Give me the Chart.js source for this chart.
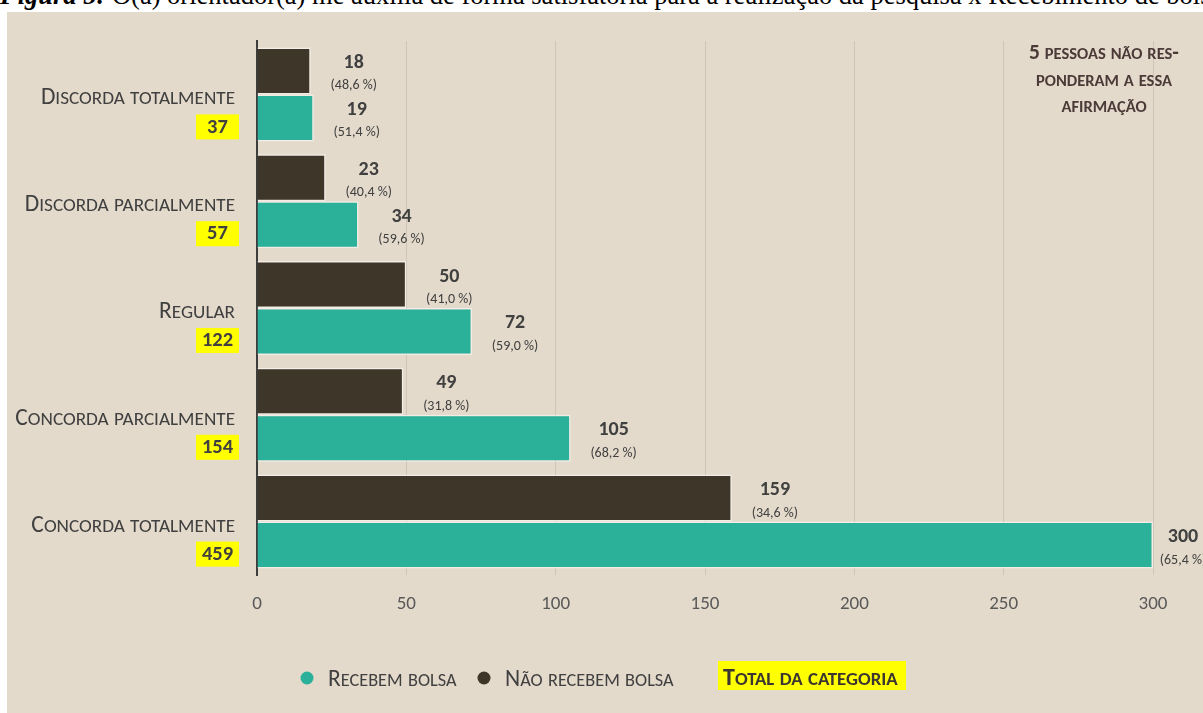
<!DOCTYPE html>
<html lang="pt">
<head>
<meta charset="utf-8">
<script src="https://cdn.jsdelivr.net/npm/chart.js@4"></script>
<style>
    body { margin: 0; background: #ffffff; width: 1203px; height: 713px; overflow: hidden; position: relative; }
    #titulo { position: absolute; left: 0; top: -18px; font-family: 'Liberation Serif', 'Times New Roman', serif; font-size: 26.5px; line-height: 26px; white-space: nowrap; color: #000; }
    #painel { position: absolute; left: 7px; top: 12px; width: 1196px; height: 701px; background: #e3dacb; }
</style>
</head>
<body>
<div id="titulo"><b><i>Figura 5:</i></b> O(a) orientador(a) me auxilia de forma satisfatória para a realização da pesquisa x Recebimento de bolsa</div>
<div id="painel"><canvas id="grafico" width="1196" height="701"></canvas></div>
<script>
// Dados
const categorias = ['Discorda totalmente', 'Discorda parcialmente', 'Regular', 'Concorda parcialmente', 'Concorda totalmente'];
const naoRecebem = [18, 23, 50, 49, 159];
const recebem = [19, 34, 72, 105, 300];
const pctNaoRecebem = ['48,6', '40,4', '41,0', '31,8', '34,6'];
const pctRecebem = ['51,4', '59,6', '59,0', '68,2', '65,4'];
const totais = [37, 57, 122, 154, 459];
const ticksX = [0, 50, 100, 150, 200, 250, 300];

const FONTE = 'Carlito, Lato, "Open Sans", sans-serif';
const COR_TEXTO = '#404040';
const COR_TEAL = '#2bb199';
const COR_ESCURA = '#3e3629';
const AMARELO = '#ffff00';

// Texto em "versalete": minúsculas viram maiúsculas menores
function textoVersalete(ctx, str, x, y, grande, pequeno, peso, align) {
    const partes = [];
    for (const c of str) {
        const minuscula = c !== c.toUpperCase();
        const tam = minuscula ? pequeno : grande;
        const ult = partes[partes.length - 1];
        if (ult && ult.tam === tam) ult.txt += c.toUpperCase();
        else partes.push({ tam: tam, txt: c.toUpperCase() });
    }
    let total = 0;
    partes.forEach(p => {
        ctx.font = `${peso} ${p.tam}px ${FONTE}`;
        p.w = ctx.measureText(p.txt).width;
        total += p.w;
    });
    let cx = x;
    if (align === 'right') cx = x - total;
    if (align === 'center') cx = x - total / 2;
    ctx.textAlign = 'left';
    ctx.textBaseline = 'alphabetic';
    partes.forEach(p => {
        ctx.font = `${peso} ${p.tam}px ${FONTE}`;
        ctx.fillText(p.txt, cx, y);
        cx += p.w;
    });
    return total;
}

const pluginExtras = {
    id: 'extras',
    afterDatasetsDraw(chart) {
        const ctx = chart.ctx;
        ctx.save();
        ctx.fillStyle = COR_TEXTO;
        // rótulos de valor à direita das barras
        [[0, naoRecebem, pctNaoRecebem], [1, recebem, pctRecebem]].forEach(([ds, vals, pcts]) => {
            chart.getDatasetMeta(ds).data.forEach((bar, i) => {
                const cx = Math.min(bar.x + 43, 1176);
                ctx.textAlign = 'center';
                ctx.textBaseline = 'middle';
                ctx.font = `bold 20px ${FONTE}`;
                ctx.fillText(String(vals[i]), cx, bar.y - 8);
                ctx.font = `14px ${FONTE}`;
                ctx.fillText(`(${pcts[i]} %)`, cx, bar.y + 15);
            });
        });

        // rótulos das categorias + total em amarelo
        const yScale = chart.scales.y;
        categorias.forEach((cat, i) => {
            const cy = yScale.getPixelForValue(i);
            ctx.fillStyle = COR_TEXTO;
            textoVersalete(ctx, cat, 228, cy + 10, 23.5, 19.2, 'normal', 'right');
            ctx.fillStyle = AMARELO;
            ctx.fillRect(189, cy + 20, 43, 25);
            ctx.fillStyle = COR_TEXTO;
            ctx.font = `bold 20.5px ${FONTE}`;
            ctx.textAlign = 'center';
            ctx.textBaseline = 'middle';
            ctx.fillText(String(totais[i]), 210.5, cy + 33);
        });

        // nota no canto superior direito
        ctx.fillStyle = '#4b3a37';
        textoVersalete(ctx, '5 pessoas não res-', 1097, 47, 21.5, 16.5, 'bold', 'center');
        textoVersalete(ctx, 'ponderam a essa', 1097, 73.5, 21.5, 16.5, 'bold', 'center');
        textoVersalete(ctx, 'afirmação', 1097, 100, 21.5, 16.5, 'bold', 'center');

        // legenda
        ctx.fillStyle = COR_TEAL;
        ctx.beginPath(); ctx.arc(300, 666, 6.5, 0, Math.PI * 2); ctx.fill();
        ctx.fillStyle = COR_TEXTO;
        textoVersalete(ctx, 'Recebem bolsa', 321, 674, 23.5, 18.3, 'normal', 'left');
        ctx.fillStyle = COR_ESCURA;
        ctx.beginPath(); ctx.arc(477, 666, 6.5, 0, Math.PI * 2); ctx.fill();
        ctx.fillStyle = COR_TEXTO;
        textoVersalete(ctx, 'Não recebem bolsa', 498, 674, 23.5, 18.3, 'normal', 'left');
        ctx.fillStyle = AMARELO;
        ctx.fillRect(711, 649, 188, 29);
        ctx.fillStyle = '#3a3530';
        textoVersalete(ctx, 'Total da categoria', 716, 673, 24, 18.8, 'bold', 'left');
        ctx.restore();
    }
};

new Chart(document.getElementById('grafico'), {
    type: 'bar',
    data: {
        labels: categorias,
        datasets: [
            {
                label: 'Não recebem bolsa',
                data: naoRecebem,
                backgroundColor: COR_ESCURA,
                borderColor: 'rgba(255,255,255,0.55)',
                borderWidth: 1.5,
                categoryPercentage: 0.88,
                barPercentage: 1
            },
            {
                label: 'Recebem bolsa',
                data: recebem,
                backgroundColor: COR_TEAL,
                borderColor: 'rgba(255,255,255,0.55)',
                borderWidth: 1.5,
                categoryPercentage: 0.88,
                barPercentage: 1
            }
        ]
    },
    options: {
        indexAxis: 'y',
        responsive: false,
        animation: false,
        devicePixelRatio: 1,
        layout: { padding: { top: 29, right: 50, left: 0, bottom: 0 } },
        plugins: {
            legend: { display: false },
            tooltip: { enabled: false }
        },
        scales: {
            x: {
                min: 0,
                max: 300,
                afterBuildTicks: (scale) => { scale.ticks = ticksX.map(v => ({ value: v })); },
                afterFit: (scale) => { scale.height = 138; },
                grid: { color: '#cfc6b8', lineWidth: 1, drawTicks: false },
                border: { display: false },
                ticks: { color: '#595959', font: { family: FONTE, size: 19 }, padding: 18 }
            },
            y: {
                afterFit: (scale) => { scale.width = 250; },
                grid: { color: 'transparent', drawTicks: false },
                border: { display: true, color: '#3d3d3d', width: 2 },
                ticks: { display: false }
            }
        }
    },
    plugins: [pluginExtras]
});
</script>
</body>
</html>
